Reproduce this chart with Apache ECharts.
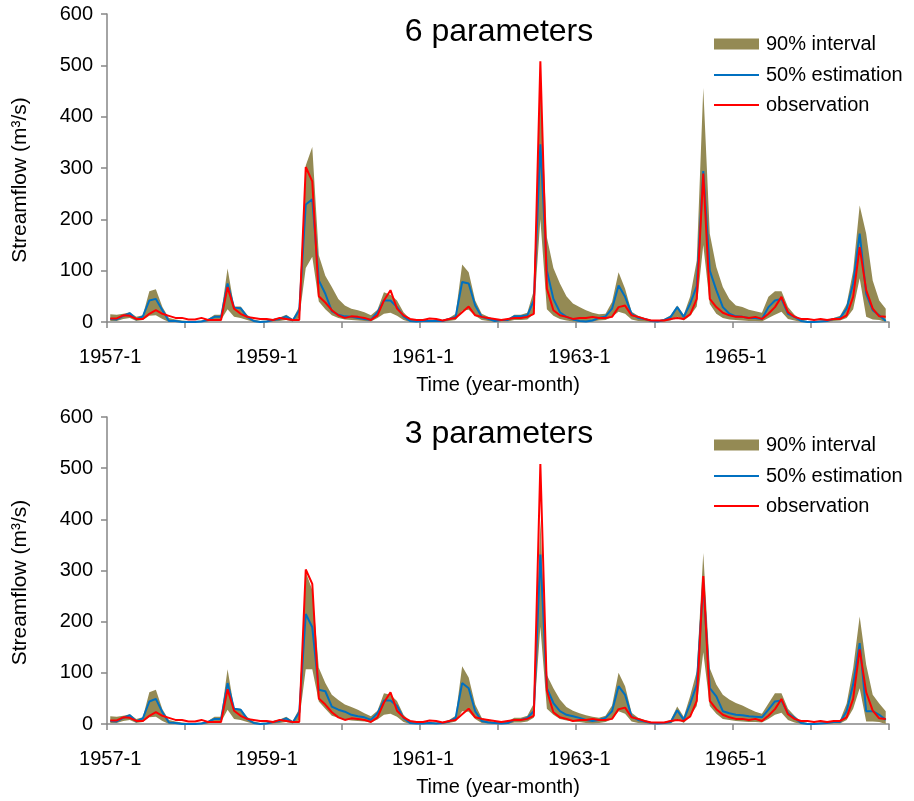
<!DOCTYPE html>
<html>
<head>
<meta charset="utf-8">
<script src="https://cdn.jsdelivr.net/npm/echarts@6/dist/echarts.min.js"></script>
<style>
html,body{margin:0;padding:0;background:#fff;}
#chart{width:914px;height:801px;}
</style>
</head>
<body>
<div id="chart"></div>
<script>
// ---- data ----
const years = [1957,1958,1959,1960,1961,1962,1963,1964,1965,1966];
const months = [1,2,3,4,5,6,7,8,9,10,11,12];

const observation = [
7,7,13,12,6,6,16,23,16,12,8,8,
5,5,8,4,4,4,68,26,16,10,8,6,
6,4,8,6,4,4,302,274,50,38,23,13,
8,11,10,8,4,13,42,62,26,13,6,4,
4,7,6,3,6,8,19,30,13,10,8,6,
4,6,8,8,10,16,508,65,23,13,10,6,
8,8,10,8,8,10,29,32,13,10,6,3,
3,3,6,8,6,15,45,289,45,29,18,13,
10,10,8,10,6,16,29,49,19,10,6,6,
4,6,4,6,6,13,49,146,62,26,11,10
];

// 6 parameters
const median6 = [
6,5,12,17,5,11,42,45,23,2,2,0,
0,0,1,4,10,10,75,28,27,10,2,0,
1,4,6,11,3,23,229,239,81,55,21,14,
11,10,8,6,4,19,42,42,29,11,2,1,
2,2,2,2,6,10,78,75,32,10,6,2,
4,4,11,11,13,42,346,100,45,19,10,5,
2,1,3,8,11,26,71,49,16,8,6,2,
1,4,10,29,10,36,70,294,100,62,29,16,
11,10,8,8,6,29,42,45,16,10,2,0,
0,1,2,6,8,26,75,172,55,23,13,2
];
const upper6 = [
15,14,16,19,10,13,60,64,29,8,5,3,
2,2,3,6,14,14,104,30,30,14,5,2,
3,6,9,14,6,30,305,341,130,90,68,45,
32,26,23,19,13,24,58,53,42,19,6,3,
3,4,4,4,8,16,112,97,42,16,10,5,
6,6,14,14,18,62,470,165,105,75,50,36,
29,23,18,15,16,39,97,65,20,12,8,4,
3,6,13,32,14,50,120,456,172,107,68,45,
32,29,24,21,18,49,60,60,29,14,5,2,
2,3,4,8,12,35,100,227,172,81,42,26
];
const lower6 = [
2,2,6,8,2,4,12,13,6,0,0,0,
0,0,0,1,4,4,25,10,8,4,0,0,
0,1,2,4,1,8,105,127,40,25,13,8,
5,4,3,2,1,8,16,18,12,4,0,0,
0,0,0,0,2,4,22,24,12,4,2,0,
1,1,4,4,5,16,200,25,12,6,3,1,
0,0,1,3,4,10,20,16,5,2,1,0,
0,1,3,10,3,12,30,150,35,16,8,5,
4,3,2,2,1,8,14,20,6,3,0,0,
0,0,0,2,3,8,25,85,10,5,4,0
];

// 3 parameters
const median3 = [
6,5,12,17,5,11,44,49,23,3,2,0,
0,0,1,4,10,10,80,30,28,10,2,0,
1,4,6,11,3,23,215,189,67,64,34,28,
24,18,15,13,8,21,46,46,35,12,2,1,
1,2,1,2,5,12,80,70,25,6,3,2,
1,2,8,8,12,25,331,70,41,25,18,15,
12,8,6,8,12,25,74,57,15,8,5,2,
1,2,4,27,8,40,77,276,70,54,25,21,
18,17,15,14,13,28,44,46,21,12,2,0,
0,1,2,4,4,25,77,158,25,25,18,8
];
const upper3 = [
15,14,16,19,10,13,62,67,29,8,5,3,
2,2,3,6,14,14,107,32,30,14,5,2,
3,6,9,14,6,30,297,262,110,80,57,47,
38,33,28,21,15,26,60,57,45,18,5,3,
3,4,3,4,8,16,113,91,38,12,7,4,
4,5,12,12,16,40,400,96,70,48,33,26,
21,17,14,12,16,36,100,74,22,12,8,4,
3,4,8,34,14,55,103,334,109,77,57,48,
41,36,30,24,20,40,60,60,30,16,5,2,
2,3,4,6,8,40,109,210,116,57,40,25
];
const lower3 = [
2,2,6,8,2,4,13,14,6,0,0,0,
0,0,0,1,4,4,28,10,8,4,0,0,
0,1,2,4,1,8,107,107,44,30,16,12,
9,7,6,5,3,9,18,20,14,4,0,0,
0,0,0,0,2,5,25,24,10,2,1,0,
0,0,3,3,5,12,190,30,18,10,7,5,
4,2,1,2,4,10,25,20,5,2,1,0,
0,0,1,10,2,15,35,140,35,20,10,8,
6,5,4,4,3,10,18,22,8,3,0,0,
0,0,0,1,1,8,30,70,5,5,4,0
];

const yTicks = [0,100,200,300,400,500,600];
const titles = ['6 parameters','3 parameters'];

// ---- build ----
const categories = [];
years.forEach(y => months.forEach(m => categories.push(y + '-' + m)));

const FONT = "'Liberation Sans', Arial, sans-serif";
const OLIVE = '#948A54';
const BLUE = '#0070C0';
const RED = '#FF0000';
const AXIS = '#868686';

const grids = [
  {left:107, right:25, top:14, height:308},
  {left:107, right:25, top:417, height:307}
];

function xAxis(gi){
  return {
    type:'category', gridIndex:gi, data:categories, boundaryGap:true,
    axisLine:{lineStyle:{color:AXIS,width:1.5}},
    axisTick:{show:true, length:6, lineStyle:{color:AXIS,width:1.5},
      interval:function(i){return i%12===0;}},
    axisLabel:{color:'#000', fontSize:20, fontFamily:FONT, margin:25,
      interval:function(i){return i%24===0;}},
    name:'Time (year-month)', nameLocation:'middle', nameGap:53,
    nameTextStyle:{color:'#000', fontSize:20, fontFamily:FONT},
    splitLine:{show:false}
  };
}
function yAxis(gi){
  return {
    type:'value', gridIndex:gi, min:yTicks[0], max:yTicks[yTicks.length-1], interval:100,
    axisLine:{show:true, lineStyle:{color:AXIS,width:1.5}},
    axisTick:{show:true, length:6, lineStyle:{color:AXIS,width:1.5}},
    axisLabel:{color:'#000', fontSize:20, fontFamily:FONT, margin:14},
    splitLine:{show:false},
    name:'Streamflow (m³/s)', nameLocation:'middle', nameGap:76,
    nameTextStyle:{color:'#000', fontSize:21, fontFamily:FONT, padding:[0,24,0,0]}
  };
}
function bandSeries(gi, lo, up){
  const diff = up.map((v,i)=>Math.max(0, v - lo[i]));
  return [
    {name:'lower'+gi, type:'line', xAxisIndex:gi, yAxisIndex:gi, data:lo, stack:'band'+gi,
     symbol:'none', lineStyle:{opacity:0}, silent:true, z:1},
    {name:'90% interval', type:'line', xAxisIndex:gi, yAxisIndex:gi, data:diff, stack:'band'+gi,
     symbol:'none', lineStyle:{opacity:0, width:0}, itemStyle:{color:OLIVE},
     areaStyle:{color:OLIVE, opacity:1}, silent:true, z:1}
  ];
}
function lineSeries(gi, name, data, color){
  return {name:name, type:'line', xAxisIndex:gi, yAxisIndex:gi, data:data,
    symbol:'none', lineStyle:{color:color, width:2}, itemStyle:{color:color}, z:3};
}

const series = [].concat(
  bandSeries(0, lower6, upper6),
  [lineSeries(0,'50% estimation',median6,BLUE), lineSeries(0,'observation',observation,RED)],
  bandSeries(1, lower3, upper3),
  [lineSeries(1,'50% estimation',median3,BLUE), lineSeries(1,'observation',observation,RED)]
);

const legendText = {color:'#000', fontSize:20, fontFamily:FONT, padding:[0,0,0,2]};
function bandLegend(top){
  return {
    left:714, top:top, padding:0, orient:'vertical', itemWidth:45, itemHeight:11,
    textStyle:legendText, selectedMode:false,
    data:[{name:'90% interval', icon:'rect'}]
  };
}
function lineLegend(top){
  return {
    left:714, top:top, padding:0, orient:'vertical', itemWidth:45, itemHeight:2, itemGap:10,
    textStyle:legendText, selectedMode:false,
    data:[{name:'50% estimation', icon:'rect'}, {name:'observation', icon:'rect'}]
  };
}

const option = {
  animation:false,
  backgroundColor:'#fff',
  grid:grids,
  xAxis:[xAxis(0), xAxis(1)],
  yAxis:[yAxis(0), yAxis(1)],
  legend:[bandLegend(34), lineLegend(65), bandLegend(435), lineLegend(466)],
  title:[
    {text:titles[0], left:494, top:11, textAlign:'center',
     textStyle:{fontSize:32, fontWeight:'normal', color:'#000', fontFamily:FONT}},
    {text:titles[1], left:494, top:413, textAlign:'center',
     textStyle:{fontSize:32, fontWeight:'normal', color:'#000', fontFamily:FONT}}
  ],
  series:series
};

const chart = echarts.init(document.getElementById('chart'), null, {renderer:'canvas'});
chart.setOption(option);
</script>
</body>
</html>
